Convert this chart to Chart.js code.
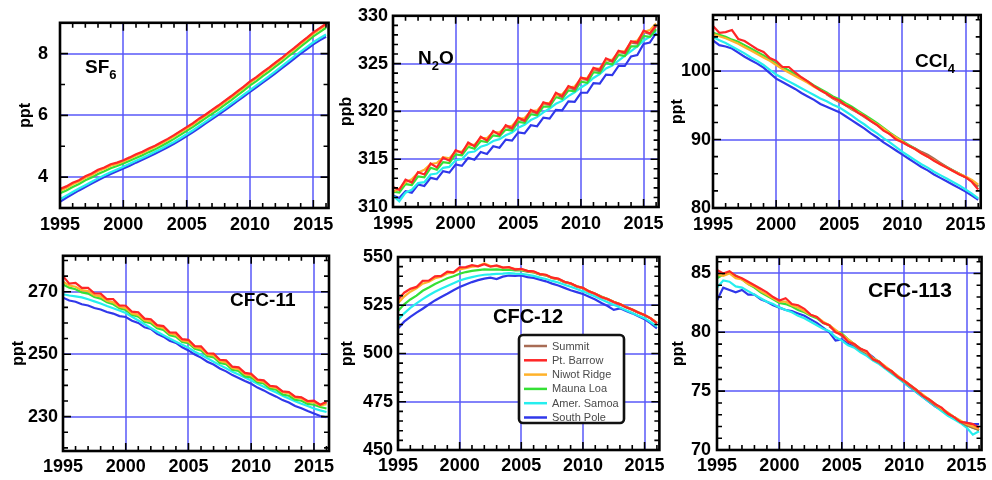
<!DOCTYPE html>
<html>
<head>
<meta charset="utf-8">
<title>Trace gas mole fractions at NOAA baseline stations</title>
<script src="https://cdn.jsdelivr.net/npm/chart.js@4.4.1/dist/chart.umd.min.js"></script>
<style>
  html, body { margin: 0; padding: 0; background: #fff; }
  #wrap { position: relative; width: 992px; height: 480px; background: #fff; overflow: hidden; }
  #wrap canvas { position: absolute; }
</style>
</head>
<body>
<div id="wrap">
  <canvas id="pSF6"   width="340" height="240" style="left:0px;top:0px"></canvas>
  <canvas id="pN2O"   width="335" height="240" style="left:335px;top:0px"></canvas>
  <canvas id="pCCl4"  width="322" height="240" style="left:670px;top:0px"></canvas>
  <canvas id="pCFC11" width="340" height="240" style="left:0px;top:240px"></canvas>
  <canvas id="pCFC12" width="335" height="240" style="left:335px;top:240px"></canvas>
  <canvas id="pCFC113" width="322" height="240" style="left:670px;top:240px"></canvas>
</div>
<script>
// ---- sampling times (half-year steps) and axis ticks ----
const years = [1995, 1995.5, 1996, 1996.5, 1997, 1997.5, 1998, 1998.5, 1999, 1999.5,
  2000, 2000.5, 2001, 2001.5, 2002, 2002.5, 2003, 2003.5, 2004, 2004.5,
  2005, 2005.5, 2006, 2006.5, 2007, 2007.5, 2008, 2008.5, 2009, 2009.5,
  2010, 2010.5, 2011, 2011.5, 2012, 2012.5, 2013, 2013.5, 2014, 2014.5,
  2015, 2015.5, 2016];
const yearTicks = [1995, 2000, 2005, 2010, 2015];
const summitStart = 2004;   // Summit record begins later than the others

// ---- stations ----
const stationKeys = ['summit', 'barrow', 'niwot', 'maunaLoa', 'samoa', 'southPole'];
const stationNames = ['Summit', 'Pt. Barrow', 'Niwot Ridge', 'Mauna Loa', 'Amer. Samoa', 'South Pole'];
const stationColors = ['#a86c55', '#ff2626', '#ffb22a', '#35e035', '#25eeee', '#3038ea'];
const stationDrawOrder = [2, 0, 1, 3, 4, 5];   // lower = drawn later (on top)

// ---- SF6 (ppt) ----
const sf6 = {
  summit:   [5.34,5.47,5.60,5.73,5.88,6.01,6.16,6.30,6.45,6.60,6.76,6.91,7.08,7.22,7.38,7.53,7.69,7.84,8.01,8.17,8.34,8.50,8.67,8.81,8.95],
  barrow:   [3.62,3.70,3.82,3.90,4.03,4.12,4.24,4.31,4.42,4.47,4.55,4.64,4.74,4.82,4.93,5.02,5.13,5.24,5.36,5.49,5.62,5.75,5.90,6.03,6.18,6.32,6.47,6.62,6.78,6.93,7.10,7.24,7.40,7.55,7.71,7.86,8.03,8.19,8.36,8.52,8.69,8.83,8.97],
  niwot:    [3.56,3.65,3.77,3.86,3.98,4.07,4.19,4.27,4.37,4.43,4.51,4.60,4.70,4.78,4.89,4.98,5.09,5.20,5.32,5.45,5.58,5.71,5.86,5.99,6.14,6.28,6.43,6.58,6.74,6.89,7.06,7.20,7.36,7.51,7.67,7.82,7.99,8.15,8.32,8.48,8.65,8.79,8.93],
  maunaLoa: [3.48,3.57,3.68,3.78,3.90,3.99,4.10,4.19,4.29,4.36,4.44,4.53,4.62,4.71,4.81,4.90,5.01,5.12,5.24,5.37,5.50,5.63,5.77,5.91,6.05,6.19,6.34,6.49,6.65,6.80,6.97,7.11,7.27,7.42,7.58,7.73,7.90,8.06,8.23,8.39,8.56,8.70,8.84],
  samoa:    [3.28,3.40,3.52,3.63,3.74,3.85,3.96,4.06,4.16,4.25,4.34,4.43,4.53,4.62,4.72,4.82,4.92,5.03,5.14,5.26,5.39,5.52,5.66,5.80,5.94,6.08,6.22,6.37,6.52,6.67,6.82,6.97,7.12,7.27,7.43,7.59,7.75,7.91,8.07,8.22,8.37,8.50,8.62],
  southPole:[3.20,3.33,3.45,3.57,3.68,3.79,3.90,4.00,4.10,4.19,4.28,4.37,4.47,4.56,4.66,4.76,4.86,4.97,5.08,5.20,5.33,5.46,5.60,5.74,5.88,6.02,6.16,6.31,6.46,6.61,6.76,6.91,7.06,7.21,7.36,7.52,7.68,7.84,8.00,8.15,8.30,8.43,8.55]
};

// ---- N2O (ppb) ----
const n2o = {
  summit:   [318.4,318.2,319.2,319.0,320.0,319.8,320.8,320.7,321.8,321.5,322.5,322.3,323.4,323.3,324.4,324.2,325.4,325.2,326.2,326.1,327.2,327.1,328.3,328.1,328.9],
  barrow:   [312.1,311.8,312.85,312.55,313.65,313.4,314.55,314.15,315.15,314.85,315.95,315.65,316.75,316.35,317.35,316.95,317.95,317.55,318.55,318.25,319.35,319.05,320.15,319.85,320.95,320.75,321.95,321.6,322.65,322.4,323.55,323.35,324.55,324.35,325.55,325.25,326.35,326.15,327.35,327.2,328.45,328.15,329.0],
  niwot:    [311.6,311.9,312.6,312.9,313.6,313.9,314.5,314.6,315.2,315.1,315.8,315.8,316.5,316.5,317.2,317.2,317.8,317.8,318.4,318.5,319.2,319.3,320.0,320.1,320.8,320.9,321.7,321.8,322.5,322.6,323.4,323.5,324.4,324.5,325.4,325.4,326.2,326.3,327.2,327.4,328.3,328.5,329.2],
  maunaLoa: [311.6,311.5,312.4,312.3,313.2,313.1,314.1,313.9,314.7,314.6,315.5,315.4,316.3,316.1,316.9,316.8,317.5,317.4,318.1,318.0,318.9,318.8,319.7,319.6,320.5,320.5,321.5,321.3,322.2,322.1,323.1,323.0,324.1,324.0,325.1,324.9,325.9,325.8,326.8,326.8,327.9,327.8,328.6],
  samoa:    [311.2,310.6,311.5,311.8,312.5,312.6,313.4,313.5,314.1,314.2,314.9,315.0,315.7,315.8,316.3,316.5,316.9,317.1,317.5,317.8,318.3,318.6,319.1,319.4,319.9,320.3,320.8,321.1,321.6,322.0,322.5,322.9,323.5,323.9,324.5,324.8,325.3,325.8,326.3,326.8,327.4,327.8,328.4],
  southPole:[311.2,310.95,311.65,311.5,312.35,312.2,313.05,312.9,313.75,313.6,314.45,314.3,315.15,314.95,315.75,315.55,316.35,316.2,317.05,316.95,317.8,317.7,318.55,318.45,319.35,319.25,320.15,320.1,321.05,321.0,321.95,321.95,322.95,322.9,323.85,323.8,324.75,324.75,325.75,325.9,327.05,327.2,328.2]
};

// ---- CCl4 (ppt) ----
const ccl4 = {
  summit:   [96.6,96.0,95.5,95.0,94.4,93.9,93.3,92.7,92.1,91.5,90.8,90.2,89.6,89.1,88.7,88.2,87.8,87.2,86.6,86.0,85.5,85.0,84.5,84.0,83.2],
  barrow:   [106.6,105.6,105.7,106.0,104.7,104.4,103.8,103.2,102.8,101.9,101.5,100.6,100.6,99.8,99.1,98.5,97.8,97.2,96.7,96.1,95.7,95.0,94.6,93.9,93.4,92.7,92.1,91.3,90.8,90.0,89.6,89.1,88.6,88.0,87.5,86.9,86.4,85.9,85.4,84.9,84.5,83.8,82.7],
  niwot:    [105.4,105.1,104.8,104.4,104.0,103.5,103.0,102.5,102.0,101.5,100.9,100.3,99.8,99.3,98.8,98.3,97.7,97.2,96.7,96.1,95.6,95.1,94.5,94.0,93.4,92.8,92.2,91.6,90.9,90.3,89.7,89.1,88.6,88.0,87.5,87.0,86.4,85.9,85.4,85.0,84.6,84.1,83.4],
  maunaLoa: [105.6,105.3,105.0,104.6,104.3,103.8,103.3,102.8,102.3,101.7,101.1,100.6,100.1,99.5,99.0,98.5,97.9,97.4,96.9,96.3,95.9,95.3,94.8,94.2,93.6,93.0,92.4,91.7,91.0,90.4,89.8,89.2,88.7,88.1,87.6,87.0,86.5,86.0,85.5,85.0,84.5,83.9,83.1],
  samoa:    [105.0,104.5,104.1,103.6,103.1,102.6,102.0,101.5,100.9,100.2,99.5,99.0,98.5,98.0,97.5,97.0,96.5,96.0,95.6,95.1,94.7,94.1,93.5,92.8,92.2,91.5,90.9,90.2,89.6,88.9,88.2,87.6,87.0,86.4,85.9,85.3,84.8,84.3,83.8,83.3,82.7,82.1,81.4],
  southPole:[104.5,103.8,103.6,103.3,102.7,102.1,101.6,101.1,100.5,99.7,98.9,98.4,97.9,97.4,96.8,96.3,95.8,95.2,94.8,94.4,94.0,93.4,92.8,92.2,91.6,90.9,90.3,89.6,89.0,88.4,87.8,87.2,86.6,86.0,85.5,84.9,84.4,83.9,83.4,82.9,82.4,81.8,81.2]
};

// ---- CFC-11 (ppt) ----
const cfc11 = {
  summit:   [256.5,254.5,254.3,252.3,252.1,250.1,249.9,247.9,247.7,245.7,245.5,243.7,243.4,241.6,241.3,239.7,239.4,237.9,237.7,236.2,236.0,234.8,234.8,233.7,234.4],
  barrow:   [275.0,272.6,272.8,271.2,271.2,269.5,269.4,267.6,267.6,265.6,265.5,263.6,263.4,261.4,261.2,259.3,259.0,257.0,256.9,254.8,254.6,252.6,252.5,250.3,250.2,248.2,248.0,246.0,245.8,244.0,243.7,241.9,241.6,239.9,239.6,238.1,237.9,236.4,236.2,235.0,235.1,233.8,234.8],
  niwot:    [273.2,272.0,271.6,270.5,270.2,268.9,268.5,267.1,266.6,265.2,264.7,263.0,262.6,260.9,260.5,258.9,258.4,256.6,256.2,254.4,254.0,252.2,251.8,249.9,249.6,247.8,247.4,245.6,245.2,243.6,243.2,241.5,241.1,239.6,239.2,237.8,237.5,236.1,235.8,234.7,234.6,233.6,234.0],
  maunaLoa: [272.3,271.3,270.8,269.8,269.4,268.3,267.8,266.6,266.0,264.7,264.2,262.6,262.0,260.4,259.9,258.3,257.8,256.1,255.6,253.9,253.5,251.7,251.2,249.4,249.0,247.2,246.8,245.0,244.6,242.9,242.6,241.0,240.6,239.0,238.6,237.1,236.7,235.4,235.1,234.1,233.8,233.1,232.6],
  samoa:    [269.2,268.8,268.5,268.2,267.6,266.9,266.2,265.4,264.7,264.0,263.2,262.0,260.8,259.6,258.4,257.2,256.1,255.0,254.0,253.0,252.1,250.8,249.8,248.7,247.6,246.5,245.5,244.4,243.5,242.5,241.6,240.5,239.6,238.6,237.7,236.7,235.8,234.9,234.1,233.4,232.6,232.0,231.5],
  southPole:[268.1,267.2,266.8,266.0,265.6,264.8,264.3,263.5,263.0,262.2,261.9,260.7,260.0,258.6,258.1,256.5,255.6,254.3,253.6,252.2,251.2,249.9,248.9,247.6,246.7,245.4,244.5,243.3,242.4,241.4,240.5,239.3,238.4,237.3,236.4,235.3,234.5,233.4,232.7,231.8,231.0,230.2,229.8]
};

// ---- CFC-12 (ppt) ----
const cfc12 = {
  summit:   [544.3,543.4,543.4,542.5,542.2,541.0,540.5,539.1,538.5,537.0,536.2,534.6,533.8,532.0,530.8,529.2,528.0,526.6,525.4,524.0,522.6,521.1,519.8,518.1,515.8],
  barrow:   [527.8,531.5,533.5,534.5,537.6,537.8,540.0,540.2,542.4,542.0,544.6,544.8,545.8,545.2,546.3,545.0,545.6,544.5,544.8,543.6,543.9,542.8,542.6,541.2,540.8,539.3,538.8,537.2,536.4,534.8,534.0,532.2,531.0,529.3,528.2,526.7,525.6,524.0,522.8,521.2,520.0,518.2,515.6],
  niwot:    [526.0,529.5,532.0,533.8,536.2,537.2,539.0,539.8,541.5,541.9,543.6,544.2,545.0,545.3,546.6,545.3,545.3,544.6,544.5,543.8,543.6,542.8,542.3,541.2,540.6,539.3,538.6,537.2,536.3,534.8,533.9,532.2,531.0,529.4,528.2,526.8,525.6,524.1,522.8,521.3,520.0,518.3,516.0],
  maunaLoa: [522.0,525.5,528.0,530.0,532.5,534.2,536.0,537.5,539.0,540.0,541.3,542.2,542.8,543.2,543.6,543.5,543.6,543.3,543.4,543.0,543.1,542.4,542.0,541.0,540.4,539.2,538.5,537.1,536.2,534.8,533.8,532.3,531.0,529.5,528.2,526.8,525.5,524.2,522.8,521.3,519.8,518.2,515.8],
  samoa:    [517.4,520.8,523.6,526.0,528.2,530.2,532.0,533.6,535.0,536.4,537.8,538.8,539.6,540.3,540.8,541.0,541.3,541.4,541.6,541.4,541.3,540.8,540.2,539.3,538.6,537.6,536.8,535.6,534.6,533.4,532.2,530.8,529.5,528.0,526.6,525.2,523.8,522.4,521.0,519.6,518.3,516.2,514.0],
  southPole:[513.0,516.5,519.0,521.2,523.2,525.4,527.5,529.3,531.0,532.8,534.4,535.8,537.0,538.0,538.8,539.3,538.6,539.8,540.4,540.2,540.5,539.6,539.2,538.3,537.4,536.2,535.2,534.0,532.8,531.8,530.8,529.4,528.0,526.2,524.6,522.6,523.4,522.0,520.8,519.3,517.8,515.6,513.0]
};

// ---- CFC-113 (ppt) ----
const cfc113 = {
  summit:   [80.5,80.1,79.7,79.3,78.9,78.5,78.2,77.7,77.4,77.0,76.6,76.2,75.8,75.4,75.0,74.6,74.2,73.8,73.5,73.1,72.8,72.4,72.1,71.9,71.7],
  barrow:   [85.3,85.0,85.2,84.8,84.6,84.3,84.0,83.7,83.4,83.0,82.7,82.9,82.4,82.3,82.0,81.5,81.3,80.8,80.6,80.0,79.8,79.2,79.0,78.6,78.4,77.7,77.5,77.0,76.7,76.2,75.9,75.5,75.1,74.6,74.3,73.9,73.6,73.1,72.8,72.4,72.3,72.2,71.9],
  niwot:    [84.9,84.8,85.0,84.6,84.5,84.1,83.9,83.5,83.2,82.9,82.6,82.6,82.3,82.1,81.8,81.5,81.3,80.9,80.6,80.2,79.8,79.4,79.0,78.6,78.3,77.8,77.5,77.1,76.7,76.3,75.9,75.5,75.1,74.7,74.3,73.9,73.5,73.2,72.8,72.5,72.2,72.0,71.8],
  maunaLoa: [84.6,84.9,85.1,84.8,84.5,84.1,83.8,83.4,83.1,82.8,82.5,82.4,82.2,81.9,81.7,81.4,81.2,80.8,80.6,80.1,79.9,79.4,79.0,78.6,78.3,77.8,77.5,77.0,76.7,76.2,75.9,75.5,75.1,74.6,74.3,73.9,73.5,73.1,72.8,72.4,72.1,71.9,71.7],
  samoa:    [83.8,84.4,84.3,83.9,83.8,83.5,83.2,82.9,82.6,82.4,82.1,81.9,81.7,81.4,81.2,80.9,80.6,80.3,80.1,79.6,79.3,78.9,78.7,78.3,78.0,77.6,77.3,76.9,76.5,76.1,75.7,75.3,74.9,74.5,74.1,73.7,73.3,72.9,72.6,72.3,71.9,71.3,71.6],
  southPole:[82.7,83.8,83.6,83.4,83.6,83.2,83.2,82.8,82.6,82.3,82.1,81.9,81.8,81.6,81.4,81.1,80.8,80.4,80.0,79.3,79.4,79.0,78.8,78.6,78.3,77.9,77.4,77.0,76.6,76.2,75.7,75.3,74.9,74.5,74.1,73.7,73.4,73.0,72.7,72.4,72.3,72.2,72.2]
};

// ---- y-axis labelled ticks per panel ----
const sf6Ticks    = [4, 6, 8];
const n2oTicks    = [310, 315, 320, 325, 330];
const ccl4Ticks   = [80, 90, 100];
const cfc11Ticks  = [230, 250, 270];
const cfc12Ticks  = [450, 475, 500, 525, 550];
const cfc113Ticks = [70, 75, 80, 85];

// ---------------------------------------------------------------
const FONT = '"Liberation Sans", Arial, Helvetica, sans-serif';
const GRID_BLUE = 'rgba(88, 88, 248, 0.75)';

function toPoints(vals, start) {
  const i0 = years.indexOf(start);
  return vals.map((v, i) => ({ x: years[i0 + i], y: v }));
}

// black frame with inward minor/major tick marks on all four sides
const framePlugin = {
  id: 'frame',
  afterDatasetsDraw(chart, args, opts) {
    const { ctx, chartArea: a, scales: { x, y } } = chart;
    ctx.save();
    ctx.strokeStyle = '#000';
    ctx.lineWidth = 1.6;
    ctx.beginPath();
    for (let yr = Math.ceil(x.min); yr <= x.max; yr++) {
      const px = x.getPixelForValue(yr);
      const len = yr % 5 === 0 ? 8 : 5;
      ctx.moveTo(px, a.top); ctx.lineTo(px, a.top + len);
      ctx.moveTo(px, a.bottom); ctx.lineTo(px, a.bottom - len);
    }
    const step = opts.minorStep;
    for (let k = Math.ceil(y.min / step); k * step <= y.max + 1e-9; k++) {
      const v = k * step;
      const py = y.getPixelForValue(v);
      const major = opts.majors.some(m => Math.abs(m - v) < 1e-6);
      const len = major ? 8 : 5;
      ctx.moveTo(a.left, py); ctx.lineTo(a.left + len, py);
      ctx.moveTo(a.right, py); ctx.lineTo(a.right - len, py);
    }
    ctx.stroke();
    ctx.lineWidth = 2.6;
    ctx.strokeRect(a.left, a.top, a.right - a.left, a.bottom - a.top);
    ctx.restore();
  }
};

// species name inside the plot, with optional subscripts
const speciesLabelPlugin = {
  id: 'speciesLabel',
  afterDatasetsDraw(chart, args, opts) {
    if (!opts || !opts.parts) return;
    const { ctx, chartArea: a } = chart;
    let xPos = a.left + opts.dx;
    const base = a.top + opts.dy;
    ctx.save();
    ctx.fillStyle = '#000';
    ctx.textAlign = 'left';
    ctx.textBaseline = 'alphabetic';
    for (const [txt, sub] of opts.parts) {
      const size = sub ? Math.round(opts.size * 0.68) : opts.size;
      ctx.font = `bold ${size}px ${FONT}`;
      ctx.fillText(txt, xPos, base + (sub ? Math.round(opts.size * 0.3) : 0));
      xPos += ctx.measureText(txt).width;
    }
    ctx.restore();
  }
};

// station key box listing the datasets with their line colours
const stationKeyPlugin = {
  id: 'stationKey',
  afterDraw(chart, args, opts) {
    if (!opts || !opts.show) return;
    const { ctx, chartArea: a } = chart;
    const bx = a.left + opts.dx, by = a.top + opts.dy;
    ctx.save();
    ctx.beginPath();
    ctx.roundRect(bx, by, opts.w, opts.h, 4);
    ctx.fillStyle = '#fff';
    ctx.fill();
    ctx.lineWidth = 2.6;
    ctx.strokeStyle = '#111';
    ctx.stroke();
    chart.data.datasets.forEach((ds, i) => {
      const yy = by + 11 + i * 14.3;
      ctx.beginPath();
      ctx.strokeStyle = ds.borderColor;
      ctx.lineWidth = 2.5;
      ctx.moveTo(bx + 5, yy);
      ctx.lineTo(bx + 28, yy);
      ctx.stroke();
      ctx.fillStyle = '#4a4a4a';
      ctx.font = `11px ${FONT}`;
      ctx.textAlign = 'left';
      ctx.textBaseline = 'middle';
      ctx.fillText(ds.label, bx + 33, yy + 0.5);
    });
    ctx.restore();
  }
};

function buildPanel(id, spec) {
  const canvas = document.getElementById(id);
  const W = canvas.width, H = canvas.height;
  const A = spec.area;
  const tickFont = { family: FONT, size: 18, weight: 'bold' };
  return new Chart(canvas, {
    type: 'line',
    data: {
      datasets: stationKeys.map((k, i) => ({
        label: stationNames[i],
        data: toPoints(spec.values[k], k === 'summit' ? summitStart : years[0]),
        borderColor: stationColors[i],
        backgroundColor: stationColors[i],
        borderWidth: 2.2,
        pointRadius: 0,
        tension: 0,
        fill: false,
        order: stationDrawOrder[i]
      }))
    },
    options: {
      responsive: false,
      animation: false,
      devicePixelRatio: 1,
      events: [],
      layout: { padding: { left: 0, top: A.top, right: W - A.right, bottom: 0 } },
      plugins: {
        legend: { display: false },
        tooltip: { enabled: false },
        frame: { minorStep: spec.minorStep, majors: spec.yTicks },
        speciesLabel: spec.label,
        stationKey: spec.key || { show: false }
      },
      scales: {
        x: {
          type: 'linear',
          min: 1995,
          max: 2016.2,
          afterBuildTicks: s => { s.ticks = yearTicks.map(v => ({ value: v })); },
          afterFit: s => { s.height = H - A.bottom; },
          grid: { color: GRID_BLUE, lineWidth: 2, drawTicks: false },
          border: { display: false },
          ticks: { color: '#000', font: tickFont, padding: spec.xPad, maxRotation: 0, autoSkip: false,
                   callback: v => String(v) }
        },
        y: {
          type: 'linear',
          min: spec.yMin,
          max: spec.yMax,
          afterBuildTicks: s => { s.ticks = spec.yTicks.map(v => ({ value: v })); },
          afterFit: s => { s.width = A.left; },
          grid: { color: GRID_BLUE, lineWidth: 2, drawTicks: false },
          border: { display: false },
          ticks: { color: '#000', font: tickFont, padding: spec.yPad, autoSkip: false,
                   callback: v => String(v) },
          title: {
            display: true,
            text: spec.unit,
            color: '#000',
            font: { family: FONT, size: 16, weight: 'bold', lineHeight: 1 },
            padding: { top: spec.titlePad, bottom: 0 }
          }
        }
      }
    },
    plugins: [framePlugin, speciesLabelPlugin, stationKeyPlugin]
  });
}

buildPanel('pSF6', {
  values: sf6, yMin: 3, yMax: 9, yTicks: sf6Ticks, minorStep: 1, unit: 'ppt',
  area: { left: 60, right: 329, top: 15, bottom: 208 }, xPad: 6, yPad: 12, titlePad: 17.5,
  label: { parts: [['SF', false], ['6', true]], dx: 25, dy: 50, size: 19 }
});
buildPanel('pN2O', {
  values: n2o, yMin: 310, yMax: 330, yTicks: n2oTicks, minorStep: 1, unit: 'ppb',
  area: { left: 58, right: 328, top: 15, bottom: 207 }, xPad: 6, yPad: 5, titlePad: 3.5,
  label: { parts: [['N', false], ['2', true], ['O', false]], dx: 25, dy: 48, size: 19 }
});
buildPanel('pCCl4', {
  values: ccl4, yMin: 80, yMax: 108.2, yTicks: ccl4Ticks, minorStep: 2.5, unit: 'ppt',
  area: { left: 43, right: 315, top: 15, bottom: 208 }, xPad: 6, yPad: 2, titlePad: 0,
  label: { parts: [['CCl', false], ['4', true]], dx: 202, dy: 52, size: 19 }
});
buildPanel('pCFC11', {
  values: cfc11, yMin: 219, yMax: 281.5, yTicks: cfc11Ticks, minorStep: 5, unit: 'ppt',
  area: { left: 63, right: 329, top: 15, bottom: 211 }, xPad: 5, yPad: 5, titlePad: 10.5,
  label: { parts: [['CFC-11', false]], dx: 167, dy: 50, size: 19 }
});
buildPanel('pCFC12', {
  values: cfc12, yMin: 450, yMax: 550, yTicks: cfc12Ticks, minorStep: 5, unit: 'ppt',
  area: { left: 63, right: 328, top: 17, bottom: 210 }, xPad: 5, yPad: 5, titlePad: 4.5,
  label: { parts: [['CFC-12', false]], dx: 95, dy: 66, size: 20 },
  key: { show: true, dx: 121, dy: 78, w: 105, h: 88 }
});
buildPanel('pCFC113', {
  values: cfc113, yMin: 70, yMax: 86.4, yTicks: cfc113Ticks, minorStep: 1, unit: 'ppt',
  area: { left: 47, right: 315, top: 17, bottom: 210 }, xPad: 5, yPad: 6, titlePad: 0.5,
  label: { parts: [['CFC-113', false]], dx: 151, dy: 40, size: 21 }
});
</script>
</body>
</html>
